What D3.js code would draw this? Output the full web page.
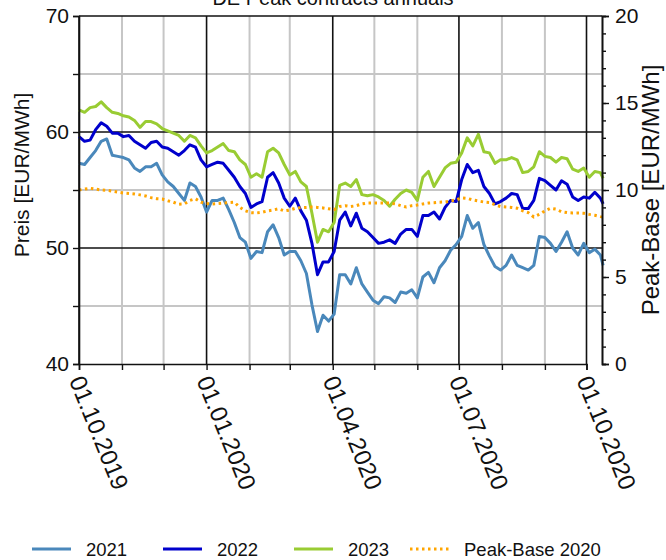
<!DOCTYPE html>
<html><head><meta charset="utf-8">
<script src="https://cdn.jsdelivr.net/npm/d3@7"></script>
<style>body{margin:0;background:#fff;} svg{display:block;font-family:"Liberation Sans",Arial,sans-serif;}</style>
</head><body><svg id="c" width="666" height="560"></svg>
<script>
const dates = ["2019-10-01","2019-10-05","2019-10-09","2019-10-13","2019-10-17","2019-10-21","2019-10-25","2019-10-29",
"2019-11-02","2019-11-06","2019-11-10","2019-11-14","2019-11-18","2019-11-22","2019-11-26","2019-11-30",
"2019-12-04","2019-12-08","2019-12-12","2019-12-16","2019-12-20","2019-12-24","2019-12-28",
"2020-01-01","2020-01-05","2020-01-09","2020-01-13","2020-01-17","2020-01-21","2020-01-25","2020-01-29",
"2020-02-02","2020-02-06","2020-02-10","2020-02-14","2020-02-18","2020-02-22","2020-02-26",
"2020-03-01","2020-03-05","2020-03-09","2020-03-13","2020-03-17","2020-03-21","2020-03-25","2020-03-29",
"2020-04-02","2020-04-06","2020-04-10","2020-04-14","2020-04-18","2020-04-22","2020-04-26","2020-04-30",
"2020-05-04","2020-05-08","2020-05-12","2020-05-16","2020-05-20","2020-05-24","2020-05-28",
"2020-06-01","2020-06-05","2020-06-09","2020-06-13","2020-06-17","2020-06-21","2020-06-25","2020-06-29",
"2020-07-03","2020-07-07","2020-07-11","2020-07-15","2020-07-19","2020-07-23","2020-07-27","2020-07-31",
"2020-08-04","2020-08-08","2020-08-12","2020-08-16","2020-08-20","2020-08-24","2020-08-28",
"2020-09-01","2020-09-05","2020-09-09","2020-09-13","2020-09-17","2020-09-21","2020-09-25","2020-09-29",
"2020-10-03","2020-10-07","2020-10-11","2020-10-13"];

const cal2021 = [57.3,57.2,57.8,58.4,59.2,59.4,58.0,57.9,57.8,57.6,56.9,56.6,57.0,57.0,57.3,56.3,55.7,55.3,54.7,54.1,55.6,55.3,54.4,
53.1,54.1,54.1,54.3,53.3,52.2,50.9,50.5,49.1,49.7,49.6,51.4,52.0,50.9,49.4,49.7,49.7,48.9,47.8,45.1,42.8,44.2,43.7,
44.3,47.7,47.7,46.9,48.3,46.9,46.2,45.5,45.2,45.8,45.7,45.3,46.2,46.1,46.4,45.7,47.5,47.9,47.0,48.3,48.9,49.8,50.3,
51.0,52.8,51.7,52.2,50.3,49.3,48.4,48.1,48.5,49.4,48.5,48.3,48.1,48.5,51.0,50.9,50.4,49.7,50.5,51.4,50.0,49.4,50.4,49.6,49.9,49.4,48.5];

const cal2022 = [59.6,59.2,59.3,60.2,60.8,60.5,59.9,59.9,59.6,59.7,59.2,58.9,58.6,59.1,59.2,58.7,58.6,58.3,58.0,58.4,58.9,58.7,57.6,
57.0,57.2,57.4,57.3,56.7,56.1,55.3,54.7,53.5,53.8,54.0,56.1,56.5,55.6,54.3,53.6,54.3,53.2,52.4,50.4,47.7,48.8,48.8,
49.7,52.4,53.1,51.9,53.0,51.7,51.4,50.9,50.4,50.5,50.7,50.4,51.2,51.6,51.6,51.0,52.8,52.8,53.1,52.5,53.5,54.1,54.0,
55.9,57.2,56.5,56.7,55.3,54.7,53.8,54.0,54.3,54.7,54.6,53.4,53.4,54.1,56.0,55.8,55.4,55.0,55.8,55.5,54.4,54.1,54.4,54.3,54.8,54.3,53.8];

const cal2023 = [61.9,61.7,62.1,62.2,62.6,62.1,61.7,61.6,61.4,61.3,61.0,60.4,60.9,60.9,60.7,60.3,60.1,59.9,59.7,59.2,59.7,59.5,58.8,
58.2,58.4,58.7,59.0,58.4,58.3,57.6,57.2,56.1,56.4,56.1,58.3,58.6,58.2,57.2,56.3,56.6,55.7,55.3,53.0,50.5,51.6,51.4,
52.2,55.4,55.6,55.3,55.9,54.6,54.5,54.6,54.4,54.1,53.6,54.2,54.7,55.0,54.8,54.1,56.1,56.6,55.3,56.1,56.9,57.3,57.4,
58.2,59.5,58.8,59.8,58.3,58.2,57.3,57.6,57.6,57.8,57.6,56.5,56.6,57.0,58.3,57.9,57.8,57.4,57.8,57.7,56.8,56.6,56.9,56.1,56.6,56.5,56.0];

const peakBase2020 = [10.0,10.05,10.1,10.05,10.0,9.98,9.94,9.88,9.83,9.8,9.77,9.72,9.66,9.56,9.5,9.48,9.38,9.3,9.18,9.2,9.4,9.5,9.3,
9.22,9.2,9.22,9.25,9.28,9.3,9.0,8.8,8.7,8.68,8.72,8.8,8.85,8.92,8.8,8.85,8.95,8.98,9.0,9.02,9.0,8.97,8.92,
8.87,9.05,9.1,9.05,9.1,9.2,9.25,9.25,9.25,9.25,9.25,9.2,9.1,9.02,9.1,9.14,9.2,9.25,9.27,9.3,9.31,9.37,9.43,
9.55,9.52,9.43,9.37,9.31,9.28,9.15,9.05,9.02,9.0,8.95,8.8,8.7,8.45,8.6,8.8,8.95,8.9,8.75,8.7,8.68,8.68,8.66,8.6,8.55,8.47,8.45];

const leftTicks = [40,45,50,55,60,65,70];
const leftLabels = [40,50,60,70];
const rightMajor = [0,5,10,15,20];
const rightMinor = d3.range(0,21,1);
const seriesNames = ["2021","2022","2023","Peak-Base 2020"];
const title = "DE Peak contracts annuals";
const yLeftTitle = "Preis [EUR/MWh]";
const yRightTitle = "Peak-Base [EUR/MWh]";

const parse = d3.timeParse("%Y-%m-%d");
const D = dates.map(parse);
const svg = d3.select("#c");
const L = 79, R = 602, T = 16, B = 364;
const x = d3.scaleTime([parse("2019-10-01"), parse("2020-10-01")], [L, 586.5]);
const yL = d3.scaleLinear([40,70],[B,T]);
const yR = d3.scaleLinear([0,20],[B,T]);

const months = d3.timeMonth.range(parse("2019-10-01"), parse("2020-10-02"));
const isQ = d => d.getMonth() % 3 === 0;

// grid
const g = svg.append("g");
g.selectAll(".vg").data(months.filter(d=>!isQ(d))).join("line")
 .attr("x1",d=>x(d)).attr("x2",d=>x(d)).attr("y1",T).attr("y2",B)
 .attr("stroke","#c6c6c6").attr("stroke-width",2);
g.selectAll(".hg").data([45,55,65]).join("line")
 .attr("x1",L).attr("x2",R).attr("y1",d=>yL(d)).attr("y2",d=>yL(d))
 .attr("stroke","#c6c6c6").attr("stroke-width",2);
g.selectAll(".vq").data(months.filter(isQ)).join("line")
 .attr("x1",d=>x(d)).attr("x2",d=>x(d)).attr("y1",T).attr("y2",B)
 .attr("stroke","#111").attr("stroke-width",1.6);
g.selectAll(".hq").data([50,60,70]).join("line")
 .attr("x1",L).attr("x2",R).attr("y1",d=>yL(d)).attr("y2",d=>yL(d))
 .attr("stroke","#111").attr("stroke-width",1.6);

// series
const colors = ["#4a88bb","#0000cc","#99cc33","#ffa500"];
const lineL = d3.line().x((d,i)=>x(D[i])).y(d=>yL(d));
const lineR = d3.line().x((d,i)=>x(D[i])).y(d=>yR(d));
[cal2021,cal2022,cal2023].forEach((s,i)=>{
  svg.append("path").datum(s).attr("d",lineL).attr("fill","none")
   .attr("stroke",colors[i]).attr("stroke-width",3).attr("stroke-linejoin","round");
});
svg.append("path").datum(peakBase2020).attr("d",lineR).attr("fill","none")
 .attr("stroke",colors[3]).attr("stroke-width",3).attr("stroke-dasharray","2.5,3.5");

// axes
const fs = 21;
const ax = svg.append("g").attr("transform",`translate(${L},0)`)
 .call(d3.axisLeft(yL).tickValues(leftTicks).tickSize(6).tickPadding(4)
   .tickFormat(d=>leftLabels.includes(d)?d:""));
const axR = svg.append("g").attr("transform",`translate(${R},0)`)
 .call(d3.axisRight(yR).tickValues(rightMinor).tickSize(4).tickFormat(""));
const axR2 = svg.append("g").attr("transform",`translate(${R},0)`)
 .call(d3.axisRight(yR).tickValues(rightMajor).tickSize(7).tickPadding(6));
const axB = svg.append("g").attr("transform",`translate(0,${B})`)
 .call(d3.axisBottom(x).tickValues(months).tickSize(6)
   .tickFormat(d=>isQ(d)?d3.timeFormat("%d.%m.%Y")(d):""));
[ax,axR,axR2,axB].forEach(a=>{
  a.select(".domain").attr("stroke","#111").attr("stroke-width",1.6);
  a.selectAll(".tick line").attr("stroke","#111").attr("stroke-width",1.4);
  a.selectAll("text").attr("font-size",fs).attr("fill","#111").attr("font-family","Liberation Sans, Arial, sans-serif");
});
axB.selectAll("text").attr("x",0).attr("y",0).attr("text-anchor","start").attr("dy","0.35em")
 .attr("font-size",24).attr("transform","translate(-3,13) rotate(68)");

// titles
svg.append("text").attr("x",333).attr("y",5).attr("text-anchor","middle")
 .attr("font-size",20).attr("fill","#111").text(title);
svg.append("text").attr("transform","translate(29,175) rotate(-90)").attr("text-anchor","middle")
 .attr("font-size",21).attr("fill","#111").text(yLeftTitle);
svg.append("text").attr("transform","translate(659,190) rotate(-90)").attr("text-anchor","middle")
 .attr("font-size",24).attr("fill","#111").text(yRightTitle);

// legend
const lx = [32,163,294,410];
const lg = svg.append("g");
seriesNames.forEach((n,i)=>{
  lg.append("line").attr("x1",lx[i]).attr("x2",lx[i]+39).attr("y1",549).attr("y2",549)
   .attr("stroke",colors[i]).attr("stroke-width",3)
   .attr("stroke-dasharray",i===3?"2.5,3.5":null);
  lg.append("text").attr("x",lx[i]+54).attr("y",556).attr("font-size",18.5).attr("fill","#111").text(n);
});
</script></body></html>
